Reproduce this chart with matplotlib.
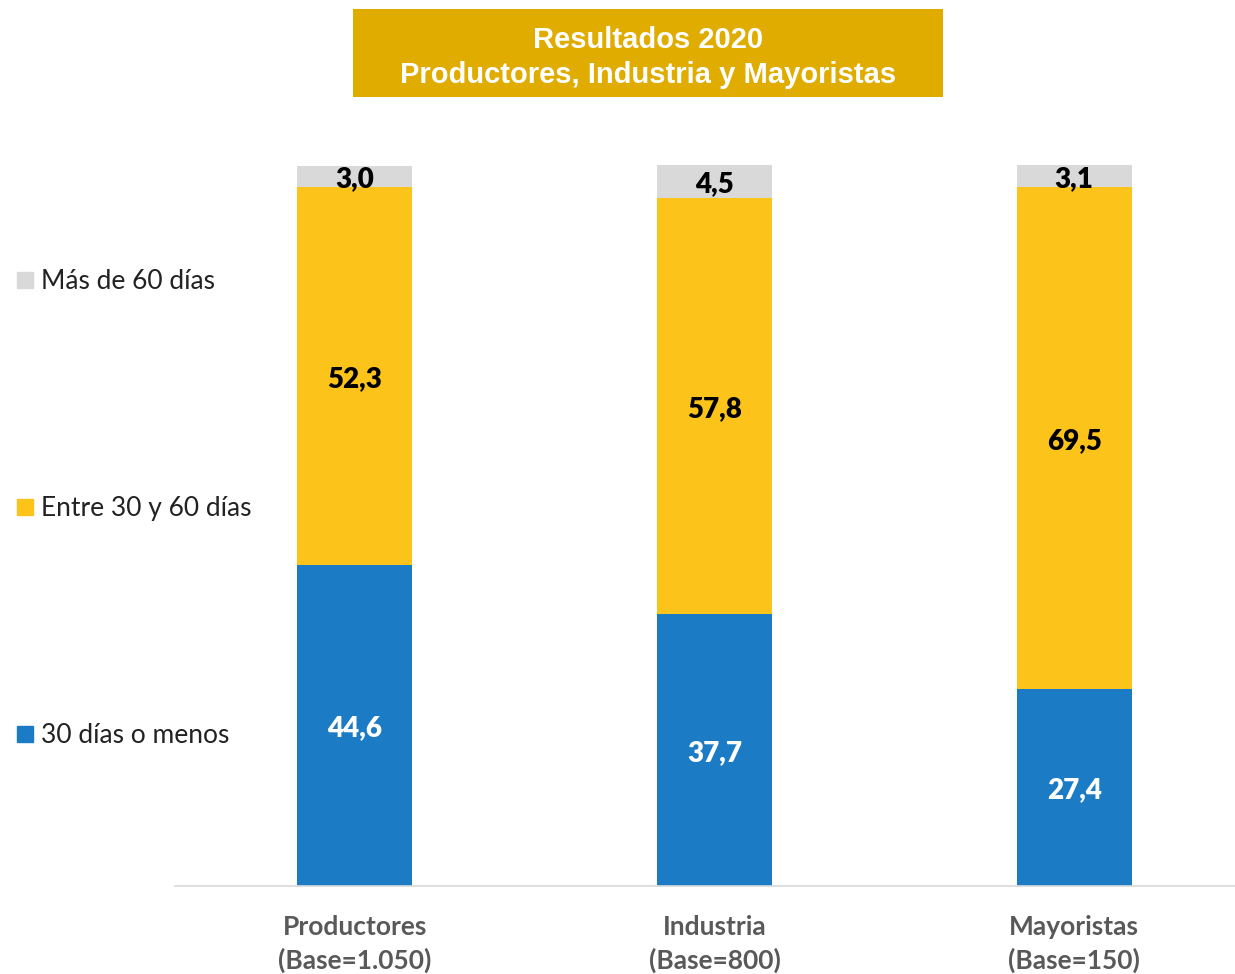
import matplotlib.pyplot as plt
from matplotlib.patches import Rectangle
from matplotlib.lines import Line2D

categories = ['Productores\n(Base=1.050)', 'Industria\n(Base=800)', 'Mayoristas\n(Base=150)']
series_names = ['30 días o menos', 'Entre 30 y 60 días', 'Más de 60 días']
menos_30 = [44.6, 37.7, 27.4]
entre_30_60 = [52.3, 57.8, 69.5]
mas_60 = [3.0, 4.5, 3.1]

colors = ['#1B7BC4', '#FCC31A', '#D9D9D9']
label_colors = ['white', 'black', 'black']

plt.rcParams['font.family'] = ['Lato', 'DejaVu Sans']

fig = plt.figure(figsize=(12.35, 9.74), dpi=100)
ax = fig.add_axes([0.1417, 0.0903, 0.8583, 0.7402])

x = list(range(len(categories)))
bottom = [0, 0, 0]
for vals, col, lcol in zip([menos_30, entre_30_60, mas_60], colors, label_colors):
    ax.bar(x, vals, width=0.32, bottom=bottom, color=col)
    for xi, v, b in zip(x, vals, bottom):
        ax.text(xi, b + v / 2 - 0.4, f'{v:.1f}'.replace('.', ','), ha='center', va='center',
                fontsize=20, fontweight='heavy', color=lcol)
    bottom = [b + v for b, v in zip(bottom, vals)]

ax.set_xlim(-0.5, 2.447)
ax.set_ylim(0, 100)
ax.set_yticks([])
ax.set_xticks(x)
ax.set_xticklabels(categories, fontsize=19, fontweight='bold', color='#595959', linespacing=1.42)
ax.tick_params(axis='x', length=0, pad=20.5)
for s in ['top', 'right', 'left']:
    ax.spines[s].set_visible(False)
ax.spines['bottom'].set_color('#D9D9D9')
ax.spines['bottom'].set_linewidth(1.2)

# leyenda a la izquierda
handles = [Line2D([], [], marker='s', linestyle='', markersize=11, color=c) for c in colors]
leg = fig.legend(handles[::-1], series_names[::-1], loc='upper left',
                 bbox_to_anchor=(-0.0097, 0.748), frameon=False, fontsize=19,
                 labelspacing=7.66, handletextpad=0.1, handlelength=1.0)
for t in leg.get_texts():
    t.set_color('#222222')

# caja del título
fig.patches.append(Rectangle((0.2858, 0.9004), 0.4777, 0.0903, transform=fig.transFigure,
                             facecolor='#E0AC00', edgecolor='none'))
fig.text(0.5247, 0.9585, 'Resultados 2020', ha='center', va='center', color='white',
         fontsize=21, fontweight='bold', family=['Liberation Sans', 'DejaVu Sans'])
fig.text(0.5247, 0.9225, 'Productores, Industria y Mayoristas', ha='center', va='center',
         color='white', fontsize=21, fontweight='bold', family=['Liberation Sans', 'DejaVu Sans'])

fig.savefig('out.png', dpi=100)
